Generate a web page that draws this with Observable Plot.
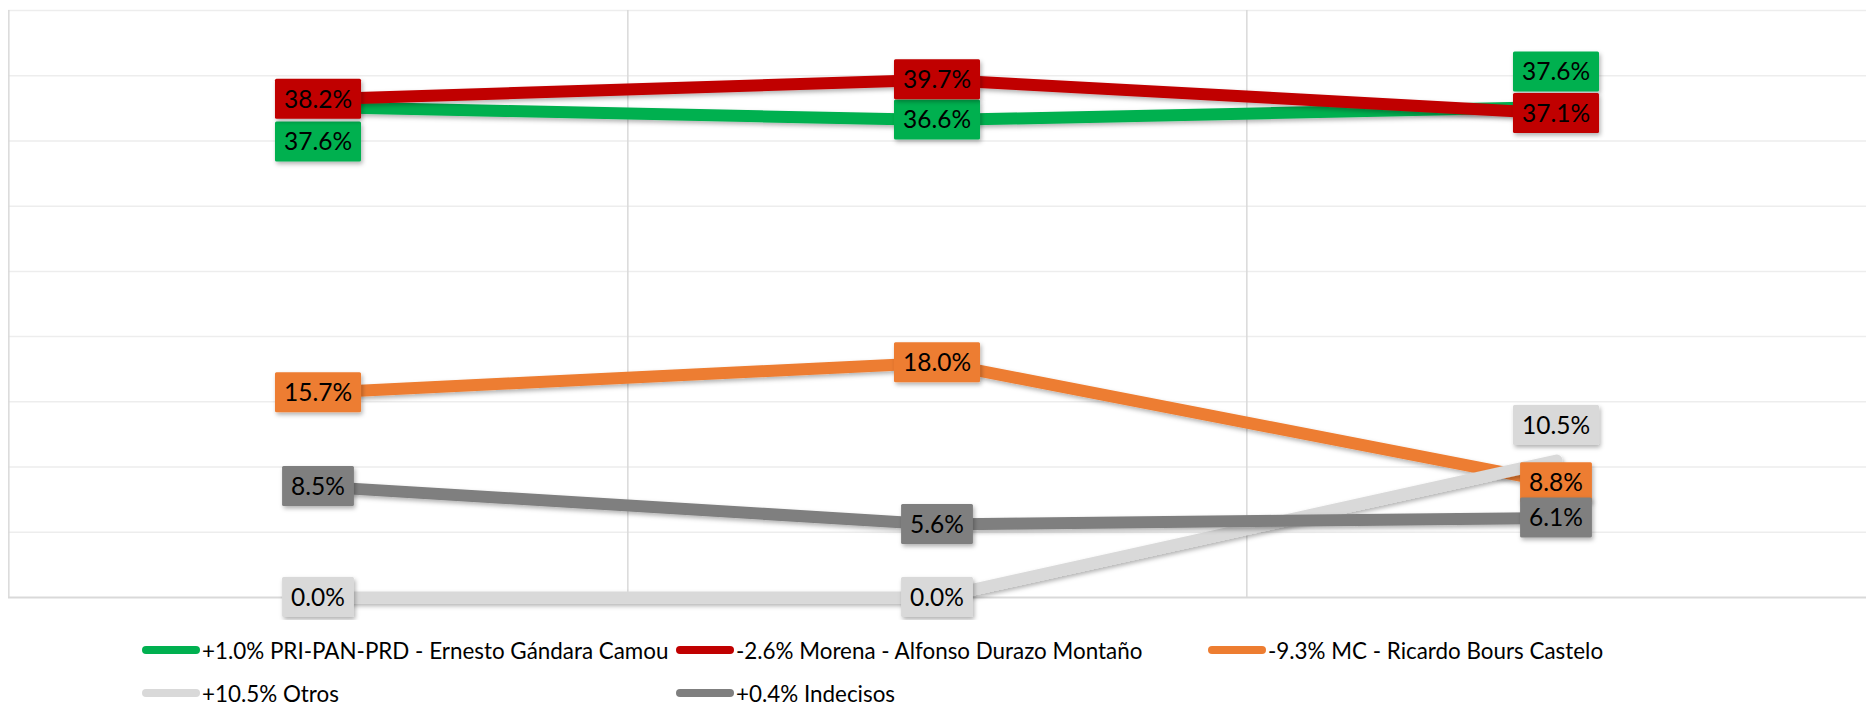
<!DOCTYPE html>
<html>
<head>
<meta charset="utf-8">
<script src="https://cdn.jsdelivr.net/npm/d3@7"></script>
<script src="https://cdn.jsdelivr.net/npm/@observablehq/plot@0.6"></script>
<style>
  body { margin: 0; background: #ffffff; font-family: Lato, "Open Sans", sans-serif; }
  #wrap { position: relative; width: 1866px; height: 709px; overflow: hidden; }
  #chart svg { display: block; }
  .lg-item { position: absolute; display: flex; align-items: center; height: 28px; font-size: 22.4px; color: #000; white-space: nowrap; }
  .lg-sw { width: 58px; height: 8px; border-radius: 4px; margin-right: 2px; flex: none; }
</style>
</head>
<body>
<div id="wrap">
  <div id="chart"></div>
  <div id="legend"></div>
</div>
<script>
// ---------------- data ----------------
const categories = ["Medición 1", "Medición 2", "Medición 3"];
const seriesNames = [
  "PRI-PAN-PRD - Ernesto Gándara Camou",
  "Morena - Alfonso Durazo Montaño",
  "MC - Ricardo Bours Castelo",
  "Otros",
  "Indecisos"
];
const seriesChanges = ["+1.0%", "-2.6%", "-9.3%", "+10.5%", "+0.4%"];
const priValues = [37.6, 36.6, 37.6];
const morenaValues = [38.2, 39.7, 37.1];
const mcValues = [15.7, 18.0, 8.8];
const otrosValues = [0.0, 0.0, 10.5];
const indecisosValues = [8.5, 5.6, 6.1];
const yTicks = [5, 10, 15, 20, 25, 30, 35, 40, 45];

// ---------------- styles ----------------
const seriesColors = ["#00B050", "#C00000", "#ED7D31", "#D9D9D9", "#7F7F7F"];
// label vertical offsets (px) per series per point: 0 = centred on point
const labelOffsets = [[35, 0, -35], [0, 0, 0], [0, 0, 0], [0, 0, -35], [0, 0, 0]];

const valuesBySeries = [priValues, morenaValues, mcValues, otrosValues, indecisosValues];
const table = seriesNames.flatMap((s, i) =>
  categories.map((c, j) => ({ series: s, si: i, category: c, value: valuesBySeries[i][j], pj: j }))
);

const W = 1866, H = 620, ML = 8, MR = 0, MT = 10, MB = 23;
const step = (W - ML - MR) / categories.length;
const FS = 24.5, PADX = 9, BOXH = 40;

function labelMark(index, scales) {
  const g = d3.create("svg:g").attr("aria-label", "data labels");
  const defs = g.append("defs");
  const f = defs.append("filter").attr("id", "shadow")
    .attr("filterUnits", "userSpaceOnUse").attr("x", 0).attr("y", 0).attr("width", W).attr("height", H);
  f.append("feDropShadow").attr("dx", 1.5).attr("dy", 2.5).attr("stdDeviation", 2.2)
    .attr("flood-color", "#000").attr("flood-opacity", 0.3);
  const ctx = document.createElement("canvas").getContext("2d");
  ctx.font = `${FS}px Lato`;
  for (const d of table) {
    const cx = scales.x(d.category);
    const cy = scales.y(d.value) + labelOffsets[d.si][d.pj];
    const txt = d.value.toFixed(1) + "%";
    const w = ctx.measureText(txt).width + 2 * PADX;
    g.append("rect")
      .attr("x", cx - w / 2).attr("y", cy - BOXH / 2)
      .attr("width", w).attr("height", BOXH)
      .attr("rx", 1.5)
      .attr("fill", seriesColors[d.si])
      .attr("filter", "url(#shadow)");
    g.append("text")
      .attr("x", cx).attr("y", cy).attr("dy", "0.36em")
      .attr("text-anchor", "middle")
      .attr("font-family", "Lato")
      .attr("font-size", FS)
      .attr("fill", "#000")
      .text(txt);
  }
  return g.node();
}

const chart = Plot.plot({
  width: W,
  height: H,
  marginLeft: ML,
  marginRight: MR,
  marginTop: MT,
  marginBottom: MB,
  style: { background: "#ffffff", overflow: "visible" },
  x: { type: "point", domain: categories, padding: 0.5, axis: null },
  y: { domain: [0, 45], axis: null },
  color: { domain: seriesNames, range: seriesColors },
  marks: [
    Plot.ruleY(yTicks, { stroke: "#EDEDED", strokeWidth: 1.5 }),
    Plot.ruleX(categories, { x: d => d, dx: -step / 2, stroke: "#D9D9D9", strokeWidth: 1.5 }),
    Plot.ruleY([0], { stroke: "#D9D9D9", strokeWidth: 2 }),
    Plot.line(table, {
      x: "category", y: "value", z: "series", stroke: "series",
      strokeWidth: 12, strokeLinecap: "round", strokeLinejoin: "round"
    }),
    labelMark
  ]
});

d3.select(chart).selectAll('g[aria-label="line"] path').attr("filter", "url(#shadow)");
document.getElementById("chart").appendChild(chart);

// ---------------- legend ----------------
const legend = d3.select("#legend");
const colLeft = [142, 676, 1208];
const rowCenter = [650, 693];
seriesNames.forEach((name, i) => {
  const col = i % 3, row = Math.floor(i / 3);
  const item = legend.append("div").attr("class", "lg-item")
    .style("left", colLeft[col] + "px")
    .style("top", (rowCenter[row] - 14) + "px");
  item.append("div").attr("class", "lg-sw").style("background", seriesColors[i]);
  item.append("span").text(seriesChanges[i] + " " + name);
});
</script>
</body>
</html>
